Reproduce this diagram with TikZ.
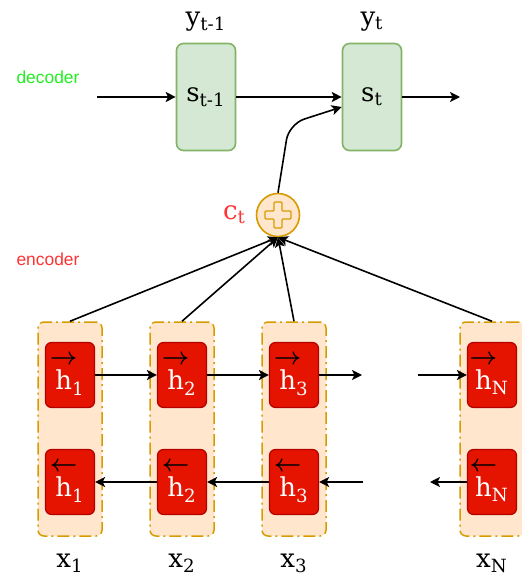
\documentclass[tikz,border=0pt]{standalone}
\usepackage{amsmath}
\usepackage{fontspec}
\usetikzlibrary{arrows.meta,positioning}

\newfontfamily\labelsans{Liberation Sans}
\newfontfamily\labelserif{DejaVu Serif}

\definecolor{decfill}{HTML}{D5E8D4}
\definecolor{decline}{HTML}{82B366}
\definecolor{hidfill}{HTML}{E51400}
\definecolor{hidline}{HTML}{B20000}
\definecolor{colfill}{HTML}{FFE6CC}
\definecolor{colline}{HTML}{D79B00}
\definecolor{declabel}{HTML}{22EE22}
\definecolor{enclabel}{HTML}{FF3333}

% hidden states with direction arrow
\newcommand{\fwdh}[1]{\shortstack{\makebox[0pt]{\color{black}$\boldsymbol{\rightarrow}$}\\[0pt]h}\textsubscript{#1}}
\newcommand{\bwdh}[1]{\shortstack{\makebox[0pt]{\color{black}$\boldsymbol{\leftarrow}$}\\[0pt]h}\textsubscript{#1}}

\tikzset{
	state/.style={draw=decline,fill=decfill,line width=0.8pt,rounded corners=3.5pt,
		minimum width=29.5pt,minimum height=53.5pt,inner sep=0pt,
		font=\labelserif\fontsize{13}{13}\selectfont},
	hidden/.style={draw=hidline,fill=hidfill,line width=0.6pt,rounded corners=3pt,
		minimum width=24.5pt,minimum height=32.5pt,inner sep=0pt,text=white,
		font=\labelserif\fontsize{13}{13}\selectfont},
	column/.style={draw=colline,fill=colfill,line width=0.75pt,rounded corners=3pt,
		dash pattern=on 6pt off 2pt on 1pt off 2pt,
		minimum width=32pt,minimum height=107pt,inner sep=0pt},
	summer/.style={circle,draw=colline,fill=colfill,line width=0.8pt,
		minimum size=21.5pt,inner sep=0pt},
	serifname/.style={inner sep=0pt,font=\labelserif\fontsize{13}{13}\selectfont},
	partname/.style={inner sep=0pt,font=\labelsans\fontsize{8.7}{10}\selectfont},
}

\begin{document}
\begin{tikzpicture}[x=0.5pt,y=-0.5pt,line width=0.8pt,
	>={Stealth[length=5pt,width=5pt,inset=1.2pt]}]
	\useasboundingbox (0,0) rectangle (522,577);

	%DECODER
	\node[state] (sprev) at (206,97) {s\textsubscript{t-1}};
	\node[state] (st) at (372,97) {s\textsubscript{t}};
	\node[serifname,above=5.5pt of sprev] (yprev) {y\textsubscript{t-1}};
	\node[serifname,above=5.5pt of st] (yt) {y\textsubscript{t}};
	\coordinate (din) at (97,97);
	\coordinate (dout) at (460,97);
	\draw[->] (din) -- (sprev.west);
	\draw[->] (sprev.east) -- (st.west);
	\draw[->] (st.east) -- (dout);

	\node[partname,text=declabel] (declbl) at (48,77) {decoder};
	\node[partname,text=enclabel] (enclbl) at (48,259) {encoder};

	%CONTEXT
	\node[summer] (ct) at (278,215) {};
	\begin{scope}[shift={(ct.center)}]
		\draw[colline,line width=0.7pt,rounded corners=0.5pt] (-13,-4)--(-4,-4)--(-4,-13)--(4,-13)--(4,-4)--(13,-4)--(13,4)--(4,4)--(4,13)--(-4,13)--(-4,4)--(-13,4)--cycle;
	\end{scope}
	\node[serifname,text=enclabel,left=4.5pt of ct] (ctlbl) {c\textsubscript{t}};
	\coordinate (bend) at (289,124);
	\draw[->,rounded corners=8pt] (ct.north) -- (bend) -- ([yshift=-5pt]st.west);

	%ENCODER
	\foreach \i/\x in {1/70,2/182,3/294,N/492}{
		\node[column] (col\i) at (\x,429) {};
		\node[hidden] (fh\i) at (\x,375) {\fwdh{\i}};
		\node[hidden] (bh\i) at (\x,482) {\bwdh{\i}};
		\node[serifname,below=8pt of col\i] (x\i) {x\textsubscript{\i}};
	}
	\foreach \i in {1,2,3,N}
		\draw[->] (col\i.north) -- (ct.south);

	%RECURRENCES
	\coordinate (fgapin) at (362,375);
	\coordinate (fgapout) at (418,375);
	\coordinate (bgapin) at (363,482);
	\coordinate (bgapout) at (430,482);
	\draw[->] (fh1.east) -- (fh2.west);
	\draw[->] (fh2.east) -- (fh3.west);
	\draw[->] (fh3.east) -- (fgapin);
	\draw[->] (fgapout) -- (fhN.west);
	\draw[->] (bh2.west) -- (bh1.east);
	\draw[->] (bh3.west) -- (bh2.east);
	\draw[->] (bgapin) -- (bh3.east);
	\draw[->] (bhN.west) -- (bgapout);
\end{tikzpicture}
\end{document}
